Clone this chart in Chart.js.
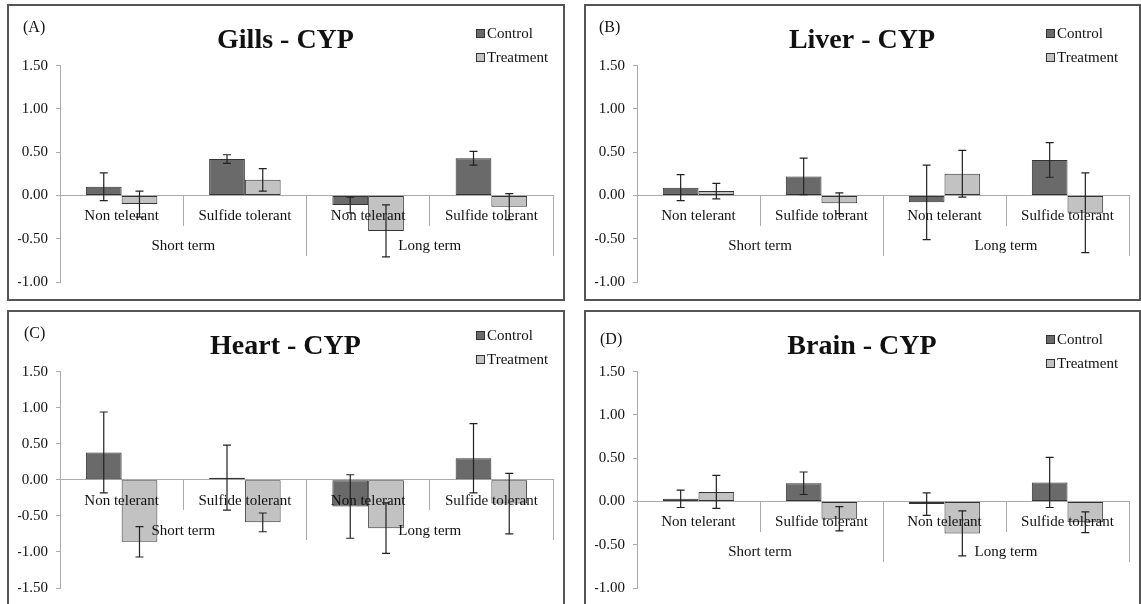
<!DOCTYPE html>
<html lang="en">
<head>
<meta charset="UTF-8">
<title>CYP expression by tissue</title>
<script src="https://cdn.jsdelivr.net/npm/chart.js"></script>
<style>
  body {
    margin: 0;
    width: 1141px;
    height: 604px;
    overflow: hidden;
    background: #fff;
    font-family: 'Liberation Serif', 'Times New Roman', serif;
    color: #111;
  }
  .panel { position: absolute; box-sizing: border-box; border: 2px solid #555; background: #fff; }
  .panel canvas { position: absolute; left: 0; top: 0; }
  .tag { position: absolute; font-size: 16px; line-height: 18px; }
  .legend { position: absolute; font-size: 15px; }
  .legend div { display: flex; align-items: center; height: 24px; }
  .legend .box { width: 7px; height: 7px; border: 1px solid #333; margin-right: 2px; }
</style>
</head>
<body>
  <div class="panel" style="left:7px;top:4px;width:558px;height:297px">
    <canvas id="gills" width="554" height="293"></canvas>
    <div class="tag" style="left:14px;top:12px">(A)</div>
    <div class="legend" id="gillsLegend" style="left:467px;top:15px"></div>
  </div>
  <div class="panel" style="left:584px;top:4px;width:557px;height:297px">
    <canvas id="liver" width="553" height="293"></canvas>
    <div class="tag" style="left:13px;top:12px">(B)</div>
    <div class="legend" id="liverLegend" style="left:460px;top:15px"></div>
  </div>
  <div class="panel" style="left:7px;top:310px;width:558px;height:297px">
    <canvas id="heart" width="554" height="293"></canvas>
    <div class="tag" style="left:15px;top:12px">(C)</div>
    <div class="legend" id="heartLegend" style="left:467px;top:11px"></div>
  </div>
  <div class="panel" style="left:584px;top:310px;width:557px;height:297px">
    <canvas id="brain" width="553" height="293"></canvas>
    <div class="tag" style="left:14px;top:18px">(D)</div>
    <div class="legend" id="brainLegend" style="left:460px;top:15px"></div>
  </div>

<script>
const categories = ['Non telerant', 'Sulfide tolerant', 'Non telerant', 'Sulfide tolerant'];
const groups = ['Short term', 'Long term'];

// mean values and +/- error
const gillsControl = [0.10, 0.42, -0.11, 0.43];
const gillsControlErr = [0.16, 0.05, 0.09, 0.08];
const gillsTreatment = [-0.10, 0.18, -0.41, -0.13];
const gillsTreatmentErr = [0.15, 0.13, 0.30, 0.15];

const liverControl = [0.09, 0.22, -0.08, 0.41];
const liverControlErr = [0.15, 0.21, 0.43, 0.20];
const liverTreatment = [0.05, -0.09, 0.25, -0.20];
const liverTreatmentErr = [0.09, 0.12, 0.27, 0.46];

const heartControl = [0.38, 0.03, -0.37, 0.30];
const heartControlErr = [0.56, 0.45, 0.44, 0.48];
const heartTreatment = [-0.86, -0.59, -0.67, -0.33];
const heartTreatmentErr = [0.21, 0.13, 0.35, 0.42];

const brainControl = [0.03, 0.21, -0.03, 0.22];
const brainControlErr = [0.10, 0.13, 0.13, 0.29];
const brainTreatment = [0.11, -0.20, -0.37, -0.24];
const brainTreatmentErr = [0.19, 0.14, 0.26, 0.12];

const SERIF = "'Liberation Serif', 'Times New Roman', serif";
const TEXT = '#111';
const AXIS = '#aaa';

// whiskers on top of everything, like the excel original
const errorBars = {
  id: 'errorBars',
  afterDraw(chart) {
    const ctx = chart.ctx;
    const y = chart.scales.y;
    ctx.save();
    ctx.strokeStyle = '#222';
    ctx.lineWidth = 1.2;
    chart.data.datasets.forEach((ds, i) => {
      chart.getDatasetMeta(i).data.forEach((bar, j) => {
        const top = y.getPixelForValue(ds.data[j] + ds.errors[j]);
        const bot = y.getPixelForValue(ds.data[j] - ds.errors[j]);
        ctx.beginPath();
        ctx.moveTo(bar.x, top); ctx.lineTo(bar.x, bot);
        ctx.moveTo(bar.x - 4, top); ctx.lineTo(bar.x + 4, top);
        ctx.moveTo(bar.x - 4, bot); ctx.lineTo(bar.x + 4, bot);
        ctx.stroke();
      });
    });
    ctx.restore();
  }
};

// stacked legend in the top right corner
const htmlLegend = {
  id: 'htmlLegend',
  afterUpdate(chart, args, options) {
    const box = document.getElementById(options.containerID);
    box.innerHTML = '';
    chart.options.plugins.legend.labels.generateLabels(chart).forEach(item => {
      const row = document.createElement('div');
      const sw = document.createElement('span');
      sw.className = 'box';
      sw.style.background = item.fillStyle;
      const txt = document.createElement('span');
      txt.textContent = item.text;
      row.appendChild(sw);
      row.appendChild(txt);
      box.appendChild(row);
    });
  }
};

function makePanel(id, title, control, controlErr, treatment, treatmentErr, yMin, padBottom) {
  const font = { family: SERIF, size: 15 };
  return new Chart(document.getElementById(id), {
    type: 'bar',
    data: {
      labels: categories,
      datasets: [
        { label: 'Control', data: control, errors: controlErr, backgroundColor: '#6a6a6a',
          borderColor: '#333', borderWidth: 1, borderSkipped: false },
        { label: 'Treatment', data: treatment, errors: treatmentErr, backgroundColor: '#c2c2c2',
          borderColor: '#333', borderWidth: 1, borderSkipped: false }
      ]
    },
    options: {
      responsive: false,
      animation: false,
      categoryPercentage: 0.58,
      barPercentage: 1,
      layout: { padding: { left: 9, right: 10, top: 0, bottom: padBottom } },
      plugins: {
        legend: { display: false },
        tooltip: { enabled: false },
        title: {
          display: true,
          text: title,
          color: TEXT,
          font: { family: SERIF, size: 28, weight: 'bold' },
          padding: { top: 18, bottom: 8 }
        },
        htmlLegend: { containerID: id + 'Legend' }
      },
      scales: {
        x: {
          type: 'category',
          position: { y: 0 },
          offset: true,
          border: { color: AXIS },
          grid: { offset: true, drawOnChartArea: false, tickLength: 30, color: AXIS },
          ticks: { z: 1, padding: -18, color: TEXT, font: font, autoSkip: false, maxRotation: 0 }
        },
        x2: {
          type: 'category',
          labels: groups,
          position: { y: 0 },
          offset: true,
          border: { color: AXIS },
          grid: { offset: true, drawOnChartArea: false, tickLength: 60, color: AXIS },
          ticks: { z: 1, padding: -18, color: TEXT, font: font, autoSkip: false, maxRotation: 0 }
        },
        y: {
          position: 'left',
          min: yMin,
          max: 1.5,
          border: { color: AXIS },
          grid: { drawOnChartArea: false, tickLength: 4, color: AXIS },
          ticks: { stepSize: 0.5, padding: 8, color: TEXT, font: font, callback: v => v.toFixed(2) },
          afterFit(scale) { scale.width = 42; }
        }
      }
    },
    plugins: [errorBars, htmlLegend]
  });
}

makePanel('gills', 'Gills - CYP', gillsControl, gillsControlErr, gillsTreatment, gillsTreatmentErr, -1, 15);
makePanel('liver', 'Liver - CYP', liverControl, liverControlErr, liverTreatment, liverTreatmentErr, -1, 15);
makePanel('heart', 'Heart - CYP', heartControl, heartControlErr, heartTreatment, heartTreatmentErr, -1.5, 17);
makePanel('brain', 'Brain - CYP', brainControl, brainControlErr, brainTreatment, brainTreatmentErr, -1, 16);
</script>
</body>
</html>
